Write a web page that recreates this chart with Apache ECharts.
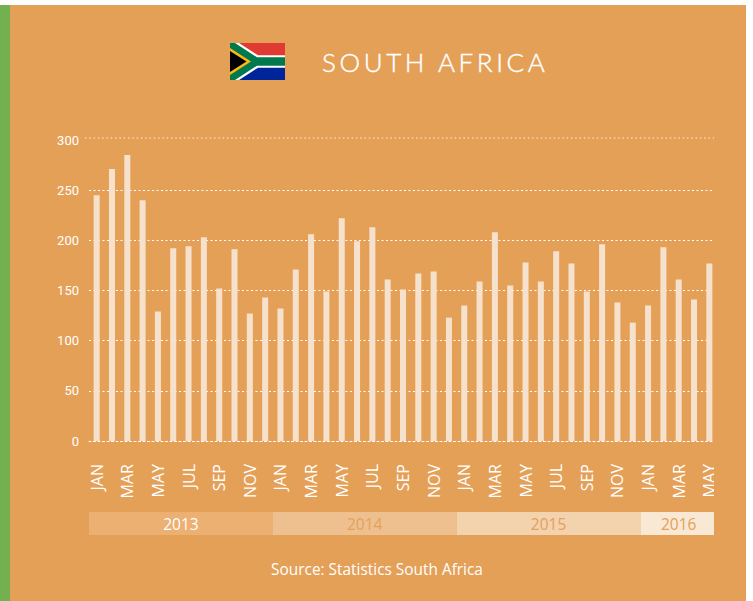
<!DOCTYPE html>
<html><head><meta charset="utf-8">
<style>
html,body{margin:0;padding:0;background:#fff}
#c{width:753px;height:601px}
#c svg text[style*="26px"]{letter-spacing:3.6px}
</style>
<script src="https://cdn.jsdelivr.net/npm/echarts@6/dist/echarts.min.js"></script>
</head><body><div id="c"></div>
<script>
const monthNames = ['JAN','FEB','MAR','APR','MAY','JUN','JUL','AUG','SEP','OCT','NOV','DEC'];
const yearLabels = ['2013','2014','2015','2016'];
const monthsPerYear = [12,12,12,5];
const values = [245,271,285,240,129,192,194,203,152,191,127,143,
                132,171,206,149,222,199,213,161,151,167,169,123,
                135,159,208,155,178,159,189,177,149,196,138,118,
                135,193,161,141,177];
const yearBandColors = ['#ecb072','#efc08f','#f3d2ae','#f9e8d4'];
const yearTextColors = ['#ffffff','#e5a05a','#e5a05a','#e5a05a'];
const categories = [];
monthsPerYear.forEach((n,y)=>{for(let i=0;i<n;i++)categories.push(monthNames[i]);});

const ORANGE='#e5a058', FONT='Open Sans';
const chart = echarts.init(document.getElementById('c'),null,{renderer:'svg'});
chart.setOption({
  animation:false,
  backgroundColor:'#fff',
  graphic:{elements:[
    {type:'rect',z:-10,shape:{x:0,y:5,width:746,height:596},style:{fill:ORANGE}},
    {type:'rect',z:-9,shape:{x:0,y:5,width:10,height:596},style:{fill:'#73b04f'}},
    // flag
    {type:'group',x:230,y:43,z:5,children:[
      {type:'rect',shape:{x:0,y:0,width:55,height:18.5},style:{fill:'#e13a32'}},
      {type:'rect',shape:{x:0,y:18.5,width:55,height:18.5},style:{fill:'#00259a'}},
      {type:'polygon',shape:{points:[[0,0],[9,0],[28,12.3],[55,12.3],[55,24.7],[28,24.7],[9,37],[0,37]]},style:{fill:'#fff'}},
      {type:'polygon',shape:{points:[[0,0],[5,0],[27,14.3],[55,14.3],[55,22.7],[27,22.7],[5,37],[0,37]]},style:{fill:'#007a4d'}},
      {type:'polygon',shape:{points:[[0,5],[21,18.5],[0,32]]},style:{fill:'#fdb913'}},
      {type:'polygon',shape:{points:[[0,8],[16.5,18.5],[0,29]]},style:{fill:'#000'}}
    ]},
    {type:'text',x:322,y:61.5,style:{text:'SOUTH AFRICA',font:'300 26px Lato',fill:'#fff',stroke:'#fff',lineWidth:0.4,textAlign:'left',textVerticalAlign:'middle'}},
    {type:'text',x:377,y:569,style:{text:'Source: Statistics South Africa',font:'15.4px "Open Sans"',fill:'#fff',textAlign:'center',textVerticalAlign:'middle'}},
    // the topmost rule sits slightly above the 300 tick and is fainter
    {type:'line',z:90,shape:{x1:85,y1:138,x2:714,y2:138},style:{stroke:'rgba(255,255,255,0.55)',lineWidth:1.5,lineDash:[1.5,2.8]}},
    // rules and bands stop a little before the last category slot ends
    {type:'rect',z:100,shape:{x:714,y:130,width:10,height:410},style:{fill:ORANGE}}
  ]},
  grid:[
    {left:89,width:628,top:140,height:301},
    {left:89,width:628,top:512,height:23}
  ],
  xAxis:[
    {type:'category',gridIndex:0,data:categories,
     axisLine:{show:true,lineStyle:{color:'#fff',type:[2,2.5],width:1}},axisTick:{show:false},splitLine:{show:false},
     axisLabel:{interval:1,rotate:90,color:'#fff',fontFamily:FONT,fontSize:16,margin:23}},
    {type:'value',gridIndex:1,min:0,max:categories.length,show:false}
  ],
  yAxis:[
    {type:'value',gridIndex:0,min:0,max:300,interval:50,
     axisLine:{show:false},axisTick:{show:false},
     splitLine:{showMaxLine:false,lineStyle:{color:'#fff',type:[2,2.5],width:1}},
     axisLabel:{color:'#fff',fontFamily:'Roboto',fontSize:13,margin:10}},
    {type:'category',gridIndex:1,data:['year'],show:false}
  ],
  series:[
    {type:'bar',xAxisIndex:0,yAxisIndex:0,data:values,barWidth:6,
     itemStyle:{color:'#f6e2cc'}},
    ...yearLabels.map((y,i)=>({
      type:'bar',name:y,xAxisIndex:1,yAxisIndex:1,stack:'years',barWidth:23,
      data:[monthsPerYear[i]],
      itemStyle:{color:yearBandColors[i]},
      label:{show:true,position:'inside',formatter:y,color:yearTextColors[i],fontFamily:FONT,fontSize:15.5}
    }))
  ]
});
</script></body></html>
